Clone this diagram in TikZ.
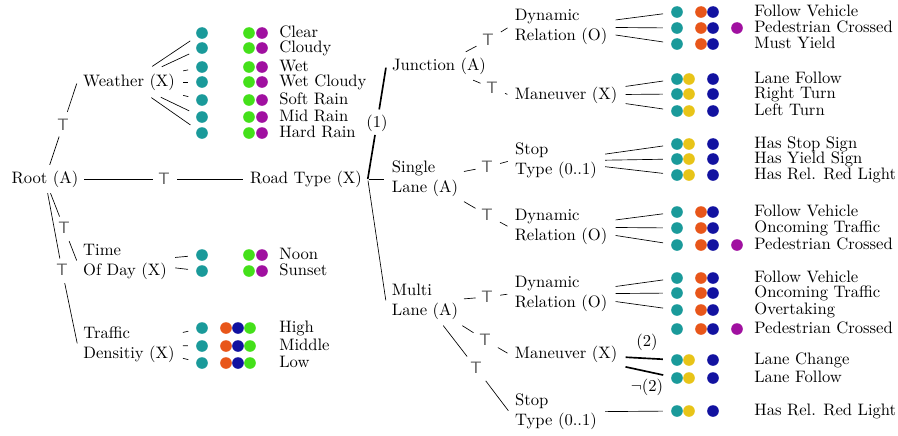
\documentclass[tikz,border=0pt]{standalone}
\usepackage{amsmath}
\usepackage{amssymb}
\usepackage{tikz}
\usetikzlibrary{positioning}

\definecolor{dteal}{RGB}{26,154,154}
\definecolor{dgreen}{RGB}{68,224,26}
\definecolor{dpurple}{RGB}{160,16,160}
\definecolor{dorange}{RGB}{232,86,26}
\definecolor{dblue}{RGB}{18,18,160}
\definecolor{dyellow}{RGB}{232,196,24}

\tikzset{
  cat/.style={align=left},
  tp/.style={text=black!65, inner sep=3.3pt, font=\sffamily},
  dot/.style={circle, fill=#1, minimum size=7pt, inner sep=0pt},
  lbl/.style={anchor=west, inner sep=0pt, text height=6.8pt, text depth=1.9pt},
  link/.style={shorten <=1pt, shorten >=1pt},
  leaf/.style={shorten <=1.5pt, shorten >=4.8pt},
}

\begin{document}
\begin{tikzpicture}[x=0.6025pt, y=-0.6025pt]
\useasboundingbox (0,0) rectangle (898,435);

\node[cat] (root) at (45,179) {Root (A)};
\node[cat] (weather) at (129,82) {Weather (X)};
\node[cat] (tod) at (125,262) {Time\\Of Day (X)};
\node[cat] (traffic) at (129,345) {Traffic\\Densitiy (X)};
\node[cat] (road) at (306,179) {Road Type (X)};
\node[cat] (junction) at (439,66) {Junction (A)};
\node[cat] (single) at (425,179) {Single\\Lane (A)};
\node[cat] (multi) at (425,302) {Multi\\Lane (A)};
\node[cat] (jdyn) at (561,27) {Dynamic\\Relation (O)};
\node[cat] (jman) at (566,95) {Maneuver (X)};
\node[cat] (sstop) at (556,161) {Stop\\Type (0..1)};
\node[cat] (sdyn) at (561,227) {Dynamic\\Relation (O)};
\node[cat] (mdyn) at (561,294) {Dynamic\\Relation (O)};
\node[cat] (mman) at (566,354) {Maneuver (X)};
\node[cat] (mstop) at (556,412) {Stop\\Type (0..1)};

\node[tp] (tw) at (63,125) {T};
\node[tp] (tr) at (164,179) {T};
\node[tp] (tt) at (64,228) {T};
\node[tp] (tf) at (62,270) {T};
\node[tp] (tjd) at (488,40) {T};
\node[tp] (tjm) at (492,88) {T};
\node[tp] (tss) at (487,167) {T};
\node[tp] (tsd) at (487,215) {T};
\node[tp] (tmd) at (487,297) {T};
\node[tp] (tmm) at (485,340) {T};
\node[tp] (tms) at (476,368) {T};
\node[inner sep=2pt] (one) at (377,123) {(1)};

\draw[link] (root) -- (tw) -- (weather.west);
\draw[link] (root) -- (tr) -- (road);
\draw[link] (root) -- (tt) -- (tod.west);
\draw[link] (root) -- (tf) -- (traffic.west);
\draw[link, line width=1pt] (road.east) -- (one) -- (junction.west);
\draw[link] (road.east) -- (single.west);
\draw[link] (road.east) -- (multi.west);
\draw[link] (junction) -- (tjd) -- (jdyn.west);
\draw[link] (junction) -- (tjm) -- (jman.west);
\draw[link] (single) -- (tss) -- (sstop.west);
\draw[link] (single) -- (tsd) -- (sdyn.west);
\draw[link] (multi) -- (tmd) -- (mdyn.west);
\draw[link] (multi) -- (tmm) -- (mman.west);
\draw[link] (multi) -- (tms) -- (mstop.west);

% left leaves
\foreach \y/\lab [count=\i] in {33/Clear, 48/Cloudy, 67/Wet, 82/Wet Cloudy, 100/Soft Rain, 117/Mid Rain, 133/Hard Rain} {
  \node[dot=dteal] (w\i) at (202,\y) {};
  \node[dot=dgreen] (wg\i) at (249,\y) {};
  \node[dot=dpurple] (wp\i) at (262,\y) {};
  \node[lbl] (wl\i) at (279,\y) {\lab};
  \draw[leaf] (weather) -- (w\i);
}
\foreach \y/\lab [count=\i] in {255/Noon, 271/Sunset} {
  \node[dot=dteal] (t\i) at (202,\y) {};
  \node[dot=dgreen] (tg\i) at (249,\y) {};
  \node[dot=dpurple] (tp\i) at (262,\y) {};
  \node[lbl] (tl\i) at (279,\y) {\lab};
  \draw[leaf] (tod) -- (t\i);
}
\foreach \y/\lab [count=\i] in {328/High, 346/Middle, 363/Low} {
  \node[dot=dteal] (d\i) at (202,\y) {};
  \node[dot=dorange] (do\i) at (226,\y) {};
  \node[dot=dblue] (db\i) at (238,\y) {};
  \node[dot=dgreen] (dg\i) at (250,\y) {};
  \node[lbl] (dl\i) at (279,\y) {\lab};
  \draw[leaf] (traffic) -- (d\i);
}

% right leaves
\foreach \y/\lab [count=\i] in {12/Follow Vehicle, 28/Pedestrian Crossed, 44/Must Yield} {
  \node[dot=dteal] (jd\i) at (677,\y) {};
  \node[dot=dorange] (jdo\i) at (701,\y) {};
  \node[dot=dblue] (jdb\i) at (713,\y) {};
  \node[lbl] (jdl\i) at (754,\y) {\lab};
  \draw[leaf] (jdyn) -- (jd\i);
}
\node[dot=dpurple] (jdp2) at (737,28) {};
\foreach \y/\lab [count=\i] in {79/Lane Follow, 94/Right Turn, 111/Left Turn} {
  \node[dot=dteal] (jm\i) at (677,\y) {};
  \node[dot=dyellow] (jmy\i) at (689,\y) {};
  \node[dot=dblue] (jmb\i) at (713,\y) {};
  \node[lbl] (jml\i) at (754,\y) {\lab};
  \draw[leaf] (jman) -- (jm\i);
}
\foreach \y/\lab [count=\i] in {144/Has Stop Sign, 159/Has Yield Sign, 175/Has Rel. Red Light} {
  \node[dot=dteal] (ss\i) at (677,\y) {};
  \node[dot=dyellow] (ssy\i) at (689,\y) {};
  \node[dot=dblue] (ssb\i) at (713,\y) {};
  \node[lbl] (ssl\i) at (754,\y) {\lab};
  \draw[leaf] (sstop) -- (ss\i);
}
\foreach \y/\lab [count=\i] in {212/Follow Vehicle, 228/Oncoming Traffic, 245/Pedestrian Crossed} {
  \node[dot=dteal] (sd\i) at (677,\y) {};
  \node[dot=dorange] (sdo\i) at (701,\y) {};
  \node[dot=dblue] (sdb\i) at (713,\y) {};
  \node[lbl] (sdl\i) at (754,\y) {\lab};
  \draw[leaf] (sdyn) -- (sd\i);
}
\node[dot=dpurple] (sdp3) at (737,245) {};
\foreach \y/\lab [count=\i] in {278/Follow Vehicle, 293/Oncoming Traffic, 310/Overtaking, 329/Pedestrian Crossed} {
  \node[dot=dteal] (md\i) at (677,\y) {};
  \node[dot=dorange] (mdo\i) at (701,\y) {};
  \node[dot=dblue] (mdb\i) at (713,\y) {};
  \node[lbl] (mdl\i) at (754,\y) {\lab};
}
\foreach \i in {1,2,3} \draw[leaf] (mdyn) -- (md\i);
\node[dot=dpurple] (mdp4) at (737,329) {};
\foreach \y/\lab [count=\i] in {360/Lane Change, 378/Lane Follow} {
  \node[dot=dteal] (mm\i) at (677,\y) {};
  \node[dot=dyellow] (mmy\i) at (689,\y) {};
  \node[dot=dblue] (mmb\i) at (713,\y) {};
  \node[lbl] (mml\i) at (754,\y) {\lab};
}
\draw[leaf, line width=1pt] (mman) -- node[midway, above=1pt] (two) {(2)} (mm1);
\draw[leaf, line width=1pt] (mman) -- node[midway, below=1pt] (ntwo) {$\neg$(2)} (mm2);
\node[dot=dteal] (ms1) at (677,411) {};
\node[dot=dyellow] (msy1) at (689,411) {};
\node[dot=dblue] (msb1) at (713,411) {};
\node[lbl] (msl1) at (754,411) {Has Rel. Red Light};
\draw[leaf] (mstop) -- (ms1);
\end{tikzpicture}
\end{document}
